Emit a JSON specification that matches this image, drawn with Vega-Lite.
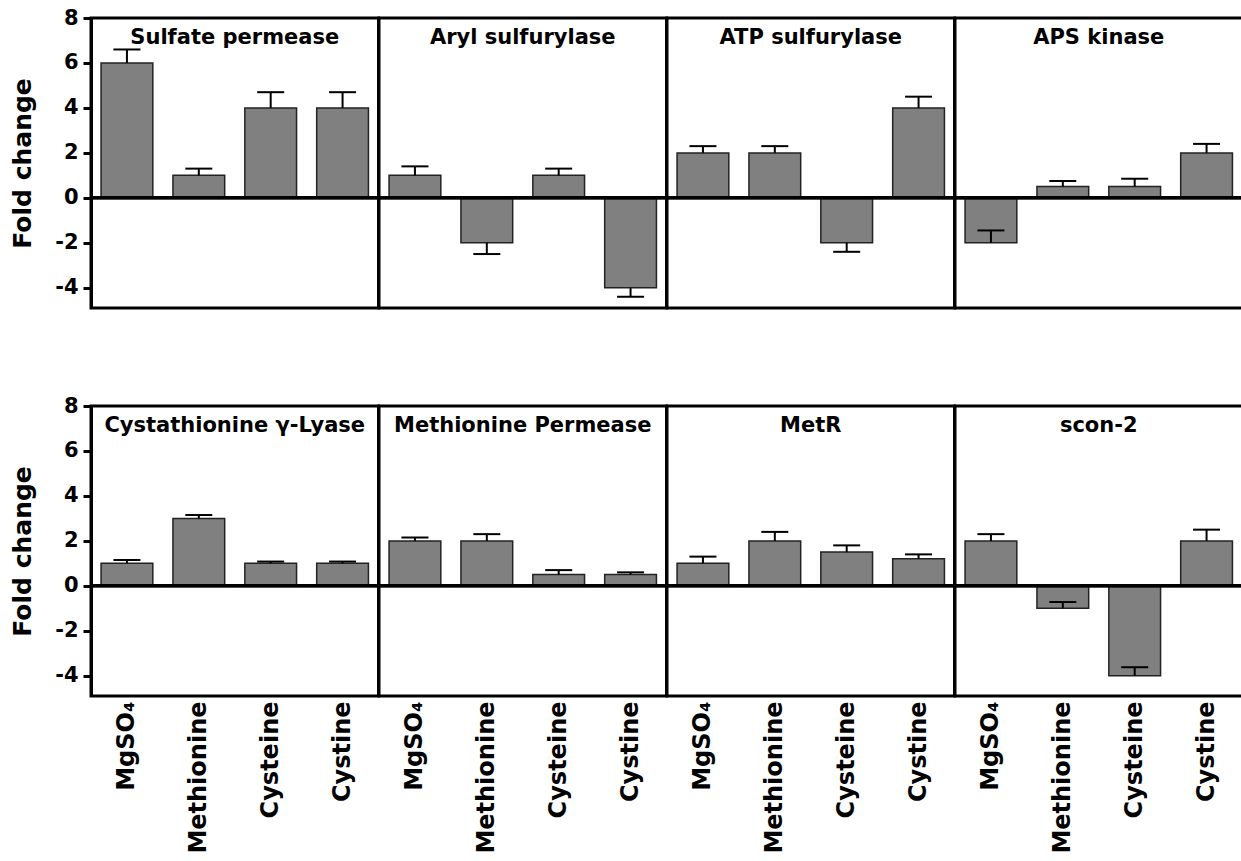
{
  "$schema": "https://vega.github.io/schema/vega-lite/v6.json",
  "padding": {"left": 10, "top": 7, "right": 0, "bottom": 0},
  "background": "white",
  "data": {"values": [
    {"gene": "Sulfate permease", "condition": "MgSO₄", "value": 6, "err": 6.6},
    {"gene": "Sulfate permease", "condition": "Methionine", "value": 1, "err": 1.3},
    {"gene": "Sulfate permease", "condition": "Cysteine", "value": 4, "err": 4.7},
    {"gene": "Sulfate permease", "condition": "Cystine", "value": 4, "err": 4.7},
    {"gene": "Aryl sulfurylase", "condition": "MgSO₄", "value": 1, "err": 1.4},
    {"gene": "Aryl sulfurylase", "condition": "Methionine", "value": -2, "err": -2.5},
    {"gene": "Aryl sulfurylase", "condition": "Cysteine", "value": 1, "err": 1.3},
    {"gene": "Aryl sulfurylase", "condition": "Cystine", "value": -4, "err": -4.4},
    {"gene": "ATP sulfurylase", "condition": "MgSO₄", "value": 2, "err": 2.3},
    {"gene": "ATP sulfurylase", "condition": "Methionine", "value": 2, "err": 2.3},
    {"gene": "ATP sulfurylase", "condition": "Cysteine", "value": -2, "err": -2.4},
    {"gene": "ATP sulfurylase", "condition": "Cystine", "value": 4, "err": 4.5},
    {"gene": "APS kinase", "condition": "MgSO₄", "value": -2, "err": -1.45},
    {"gene": "APS kinase", "condition": "Methionine", "value": 0.5, "err": 0.75},
    {"gene": "APS kinase", "condition": "Cysteine", "value": 0.5, "err": 0.85},
    {"gene": "APS kinase", "condition": "Cystine", "value": 2, "err": 2.4},
    {"gene": "Cystathionine γ-Lyase", "condition": "MgSO₄", "value": 1, "err": 1.15},
    {"gene": "Cystathionine γ-Lyase", "condition": "Methionine", "value": 3, "err": 3.15},
    {"gene": "Cystathionine γ-Lyase", "condition": "Cysteine", "value": 1, "err": 1.08},
    {"gene": "Cystathionine γ-Lyase", "condition": "Cystine", "value": 1, "err": 1.08},
    {"gene": "Methionine Permease", "condition": "MgSO₄", "value": 2, "err": 2.15},
    {"gene": "Methionine Permease", "condition": "Methionine", "value": 2, "err": 2.3},
    {"gene": "Methionine Permease", "condition": "Cysteine", "value": 0.5, "err": 0.7},
    {"gene": "Methionine Permease", "condition": "Cystine", "value": 0.5, "err": 0.6},
    {"gene": "MetR", "condition": "MgSO₄", "value": 1, "err": 1.3},
    {"gene": "MetR", "condition": "Methionine", "value": 2, "err": 2.4},
    {"gene": "MetR", "condition": "Cysteine", "value": 1.5, "err": 1.8},
    {"gene": "MetR", "condition": "Cystine", "value": 1.2, "err": 1.4},
    {"gene": "scon-2", "condition": "MgSO₄", "value": 2, "err": 2.3},
    {"gene": "scon-2", "condition": "Methionine", "value": -1, "err": -0.72},
    {"gene": "scon-2", "condition": "Cysteine", "value": -4, "err": -3.62},
    {"gene": "scon-2", "condition": "Cystine", "value": 2, "err": 2.5}
  ]},
  "facet": {
    "field": "gene", "type": "nominal",
    "sort": ["Sulfate permease", "Aryl sulfurylase", "ATP sulfurylase", "APS kinase", "Cystathionine γ-Lyase", "Methionine Permease", "MetR", "scon-2"],
    "header": {"title": null, "labelFont": "DejaVu Sans", "labelFontWeight": "bold", "labelFontSize": 21, "labelColor": "black", "labelPadding": -30}
  },
  "columns": 4,
  "bounds": "flush",
  "spacing": {"column": 0, "row": 98},
  "spec": {
    "width": 287.5,
    "height": 290,
    "layer": [
      {"mark": {"type": "bar", "fill": "#808080", "stroke": "#222222", "strokeWidth": 1.5},
       "encoding": {
         "x": {"field": "condition", "type": "nominal", "sort": ["MgSO₄", "Methionine", "Cysteine", "Cystine"],
           "scale": {"paddingInner": 0.28, "paddingOuter": 0.14},
           "axis": {"title": null, "labelAngle": -90, "labelFont": "DejaVu Sans", "labelFontWeight": "bold", "labelFontSize": 24, "labelColor": "black", "ticks": false, "domain": false, "labelPadding": 5}
         },
         "y": {"field": "value", "type": "quantitative", "scale": {"domain": [-4.9, 8], "nice": false},
         "axis": {"title": "Fold change", "values": [-4, -2, 0, 2, 4, 6, 8], "labelExpr": "'' + datum.value", "grid": false,
           "tickSize": 8, "tickWidth": 3, "tickColor": "black", "domainWidth": 3, "domainColor": "black",
           "labelFont": "DejaVu Sans", "labelFontWeight": "bold", "labelFontSize": 21, "labelColor": "black", "labelPadding": 5,
           "titleFont": "DejaVu Sans", "titleFontWeight": "bold", "titleFontSize": 25, "titleColor": "black", "titlePadding": 19}}}},
      {"mark": {"type": "rule", "stroke": "black", "strokeWidth": 2},
       "encoding": {"x": {"field": "condition", "type": "nominal", "sort": ["MgSO₄", "Methionine", "Cysteine", "Cystine"]},
         "y": {"field": "value", "type": "quantitative"}, "y2": {"field": "err"}}},
      {"mark": {"type": "tick", "color": "black", "thickness": 2, "size": 27, "opacity": 1},
       "encoding": {"x": {"field": "condition", "type": "nominal", "sort": ["MgSO₄", "Methionine", "Cysteine", "Cystine"]},
         "y": {"field": "err", "type": "quantitative"}}},
      {"mark": {"type": "rule", "stroke": "black", "strokeWidth": 3},
       "encoding": {"y": {"datum": 0, "type": "quantitative"}}}
    ]
  },
  "config": {"view": {"stroke": "black", "strokeWidth": 3}}
}
